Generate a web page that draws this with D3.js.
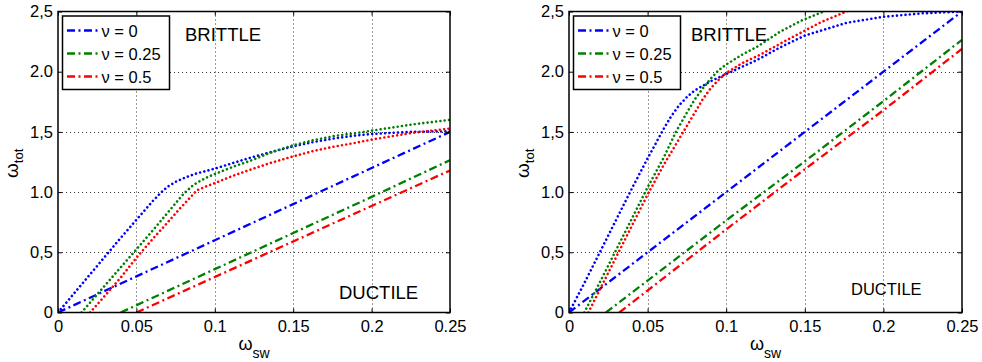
<!DOCTYPE html>
<html>
<head>
<meta charset="utf-8">
<script src="https://cdn.jsdelivr.net/npm/d3@7"></script>
<style>
  html, body { margin: 0; padding: 0; background: #fff; }
  svg { display: block; font-family: "Liberation Sans", Arial, Helvetica, sans-serif; }
</style>
</head>
<body>
<svg id="chart" width="982" height="362"></svg>
<script>
// ---------- data ----------
const xTickValues = [0, 0.05, 0.1, 0.15, 0.2, 0.25];
const xTickLabels = ["0", "0.05", "0.1", "0.15", "0.2", "0.25"];
const yTickValues = [0, 0.5, 1.0, 1.5, 2.0, 2.5];
const yTickLabels = ["0", "0,5", "1.0", "1,5", "2.0", "2,5"];
const legendLabels = ["\u03bd = 0", "\u03bd = 0.25", "\u03bd = 0.5"];
const seriesColors = ["#0000ff", "#008000", "#ff0000"];

// Left panel — dotted curves (brittle)
const leftDotNu0 = [[0,0],[0.01,0.155],[0.02,0.31],[0.03,0.465],[0.04,0.62],[0.05,0.77],[0.06,0.92],[0.066,1.0],[0.07,1.045],[0.075,1.085],[0.08,1.115],[0.0875,1.152],[0.1,1.195],[0.1125,1.245],[0.1226,1.285],[0.135,1.33],[0.15,1.38],[0.1625,1.415],[0.1758,1.445],[0.19,1.47],[0.2,1.483],[0.225,1.5],[0.25,1.505]];
const leftDotNu025 = [[0.015,0],[0.02,0.075],[0.03,0.225],[0.04,0.375],[0.05,0.525],[0.06,0.675],[0.07,0.83],[0.08,0.985],[0.0864,1.06],[0.093,1.11],[0.1,1.15],[0.1125,1.215],[0.1226,1.26],[0.135,1.325],[0.15,1.39],[0.1625,1.43],[0.1758,1.465],[0.19,1.49],[0.2,1.51],[0.225,1.56],[0.25,1.6]];
const leftDotNu05 = [[0.0204,0],[0.03,0.14],[0.04,0.29],[0.05,0.455],[0.06,0.605],[0.07,0.75],[0.078,0.867],[0.085,0.965],[0.0886,1.015],[0.094,1.045],[0.1,1.075],[0.1125,1.14],[0.1226,1.186],[0.135,1.24],[0.15,1.297],[0.1625,1.34],[0.175,1.375],[0.19,1.41],[0.2,1.436],[0.225,1.49],[0.25,1.528]];
// Left panel — dash-dot lines (ductile)
const leftDashNu0 = [[0,0],[0.05,0.3],[0.1,0.6],[0.15,0.9],[0.2,1.2],[0.25,1.5]];
const leftDashNu025 = [[0.04,0],[0.1,0.36],[0.15,0.66],[0.2,0.96],[0.25,1.265]];
const leftDashNu05 = [[0.05,0],[0.1,0.295],[0.15,0.59],[0.2,0.885],[0.25,1.18]];

// Right panel — dotted curves (brittle)
const rightDotNu0 = [[0,0],[0.01,0.25],[0.02,0.51],[0.03,0.77],[0.04,1.03],[0.05,1.28],[0.06,1.52],[0.065,1.63],[0.07,1.72],[0.075,1.79],[0.08,1.845],[0.09,1.92],[0.1,1.98],[0.11,2.04],[0.12,2.1],[0.134,2.2],[0.15,2.3],[0.1765,2.406],[0.2,2.456],[0.225,2.485],[0.25,2.5]];
const rightDotNu025 = [[0.0097,0],[0.02,0.26],[0.03,0.52],[0.04,0.78],[0.05,1.04],[0.06,1.28],[0.068,1.5],[0.075,1.66],[0.08,1.77],[0.085,1.86],[0.09,1.94],[0.095,2.01],[0.1,2.06],[0.11,2.14],[0.12,2.21],[0.134,2.33],[0.147,2.42],[0.162,2.5],[0.18,2.6]];
const rightDotNu05 = [[0.0123,0],[0.02,0.2],[0.03,0.46],[0.04,0.72],[0.05,0.98],[0.06,1.22],[0.0727,1.5],[0.08,1.66],[0.085,1.77],[0.09,1.86],[0.095,1.93],[0.1,1.99],[0.11,2.07],[0.1214,2.14],[0.134,2.23],[0.1468,2.32],[0.16,2.41],[0.1765,2.5],[0.19,2.57]];
// Right panel — dash-dot lines (ductile)
const rightDashNu0 = [[0,0],[0.05,0.5],[0.1,1.0],[0.15,1.5],[0.2,2.0],[0.25,2.5]];
const rightDashNu025 = [[0.0235,0],[0.05,0.265],[0.1,0.765],[0.15,1.255],[0.2,1.755],[0.25,2.265]];
const rightDashNu05 = [[0.032,0],[0.1,0.69],[0.15,1.19],[0.2,1.68],[0.25,2.19]];

// ---------- drawing ----------
const svg = d3.select("#chart");
svg.append("rect").attr("width", 982).attr("height", 362).attr("fill", "#fff");

const FONT = 16.5;
const DOT = "0.01,4.3";
const DASHDOT = "8,3.5,2,3.5";

function drawPanel(p) {
  const x = d3.scaleLinear().domain([0, 0.25]).range([p.x0, p.x1]);
  const y = d3.scaleLinear().domain([0, 2.5]).range([p.y0, p.y1]);
  const g = svg.append("g");
  const clipId = "clip" + p.id;
  svg.append("clipPath").attr("id", clipId).append("rect")
    .attr("x", p.x0).attr("y", p.y1).attr("width", p.x1 - p.x0).attr("height", p.y0 - p.y1);

  // grid
  const grid = g.append("g").attr("stroke", "#333").attr("stroke-width", 1).attr("stroke-dasharray", "1,3");
  grid.selectAll(".gx").data(xTickValues.slice(1, -1)).join("line")
    .attr("x1", d => Math.round(x(d)) + 0.5).attr("x2", d => Math.round(x(d)) + 0.5)
    .attr("y1", p.y0).attr("y2", p.y1);
  grid.selectAll(".gy").data(yTickValues.slice(1, -1)).join("line")
    .attr("y1", d => Math.round(y(d)) + 0.5).attr("y2", d => Math.round(y(d)) + 0.5)
    .attr("x1", p.x0).attr("x2", p.x1);

  // series
  const line = d3.line().x(d => x(d[0])).y(d => y(d[1]));
  const plot = g.append("g").attr("clip-path", `url(#${clipId})`);
  p.dash.forEach((s, i) => {
    plot.append("path").datum(s).attr("d", line).attr("fill", "none")
      .attr("stroke", seriesColors[i]).attr("stroke-width", 2.3)
      .attr("stroke-dasharray", DASHDOT);
  });
  p.dot.forEach((s, i) => {
    plot.append("path").datum(s).attr("d", line).attr("fill", "none")
      .attr("stroke", seriesColors[i]).attr("stroke-width", 2.6)
      .attr("stroke-linecap", "round")
      .attr("stroke-dasharray", DOT);
  });

  // axes (inward ticks, MATLAB style)
  const ax = g.append("g").attr("font-size", FONT).attr("font-family", "Liberation Sans, Arial, sans-serif");
  const bottom = d3.axisBottom(x).tickValues(xTickValues).tickFormat((d, i) => xTickLabels[i]).tickSizeInner(-4).tickSizeOuter(0).tickPadding(8);
  const left = d3.axisLeft(y).tickValues(yTickValues).tickFormat((d, i) => yTickLabels[i]).tickSizeInner(-4).tickSizeOuter(0).tickPadding(5);
  const top = d3.axisTop(x).tickValues(xTickValues).tickFormat("").tickSizeInner(-4).tickSizeOuter(0);
  const right = d3.axisRight(y).tickValues(yTickValues).tickFormat("").tickSizeInner(-4).tickSizeOuter(0);
  [[bottom, `translate(0,${p.y0})`], [left, `translate(${p.x0},0)`], [top, `translate(0,${p.y1})`], [right, `translate(${p.x1},0)`]]
    .forEach(([a, t]) => {
      const gg = ax.append("g").attr("transform", t).call(a);
      gg.select(".domain").remove();
      gg.selectAll("line").attr("stroke", "#000");
      gg.selectAll("text").attr("fill", "#000").attr("font-size", FONT);
    });

  // box
  g.append("rect").attr("x", p.x0).attr("y", p.y1).attr("width", p.x1 - p.x0).attr("height", p.y0 - p.y1)
    .attr("fill", "none").attr("stroke", "#000").attr("stroke-width", 1.5);

  // axis labels
  const yl = g.append("text").attr("transform", `translate(${p.x0 - 40},${(p.y0 + p.y1) / 2 + 16}) rotate(-90)`)
    .attr("font-size", 19).attr("fill", "#000");
  yl.append("tspan").text("\u03c9");
  yl.append("tspan").attr("font-size", 13).attr("dy", 5).text("tot");
  const xl = g.append("text").attr("x", (p.x0 + p.x1) / 2).attr("y", p.y0 + 37).attr("text-anchor", "middle")
    .attr("font-size", 18).attr("fill", "#000");
  xl.append("tspan").text("\u03c9");
  xl.append("tspan").attr("font-size", 14).attr("dy", 8).text("sw");

  // annotations
  g.append("text").attr("x", p.x0 + p.brittleDx).attr("y", 40.5).attr("font-size", 18.5).attr("fill", "#000").text("BRITTLE");
  g.append("text").attr("x", p.ductileX).attr("y", p.ductileY).attr("font-size", p.ductileSize).attr("fill", "#000").text("DUCTILE");

  // legend
  const lx = p.x0 + 4.5, ly = 16, lw = 107, lh = 73.5;
  const lg = g.append("g");
  lg.append("rect").attr("x", lx).attr("y", ly).attr("width", lw).attr("height", lh)
    .attr("fill", "#fff").attr("stroke", "#000").attr("stroke-width", 1.5);
  legendLabels.forEach((lab, i) => {
    const cy = ly + 14.5 + i * 23;
    lg.append("line").attr("x1", lx + 4.5).attr("x2", lx + 38).attr("y1", cy).attr("y2", cy)
      .attr("stroke", seriesColors[i]).attr("stroke-width", 2.3).attr("stroke-dasharray", DASHDOT);
    lg.append("text").attr("x", lx + 39).attr("y", cy + 6).attr("font-size", FONT).attr("fill", "#000").text(lab);
  });
}

drawPanel({ id: "L", x0: 58, x1: 450, y0: 312.5, y1: 11.5,
  dot: [leftDotNu0, leftDotNu025, leftDotNu05], dash: [leftDashNu0, leftDashNu025, leftDashNu05],
  brittleDx: 127, ductileX: 339, ductileY: 299, ductileSize: 18.5 });
drawPanel({ id: "R", x0: 569, x1: 962, y0: 312.5, y1: 11.5,
  dot: [rightDotNu0, rightDotNu025, rightDotNu05], dash: [rightDashNu0, rightDashNu025, rightDashNu05],
  brittleDx: 122, ductileX: 851, ductileY: 295, ductileSize: 16.5 });
</script>
</body>
</html>
